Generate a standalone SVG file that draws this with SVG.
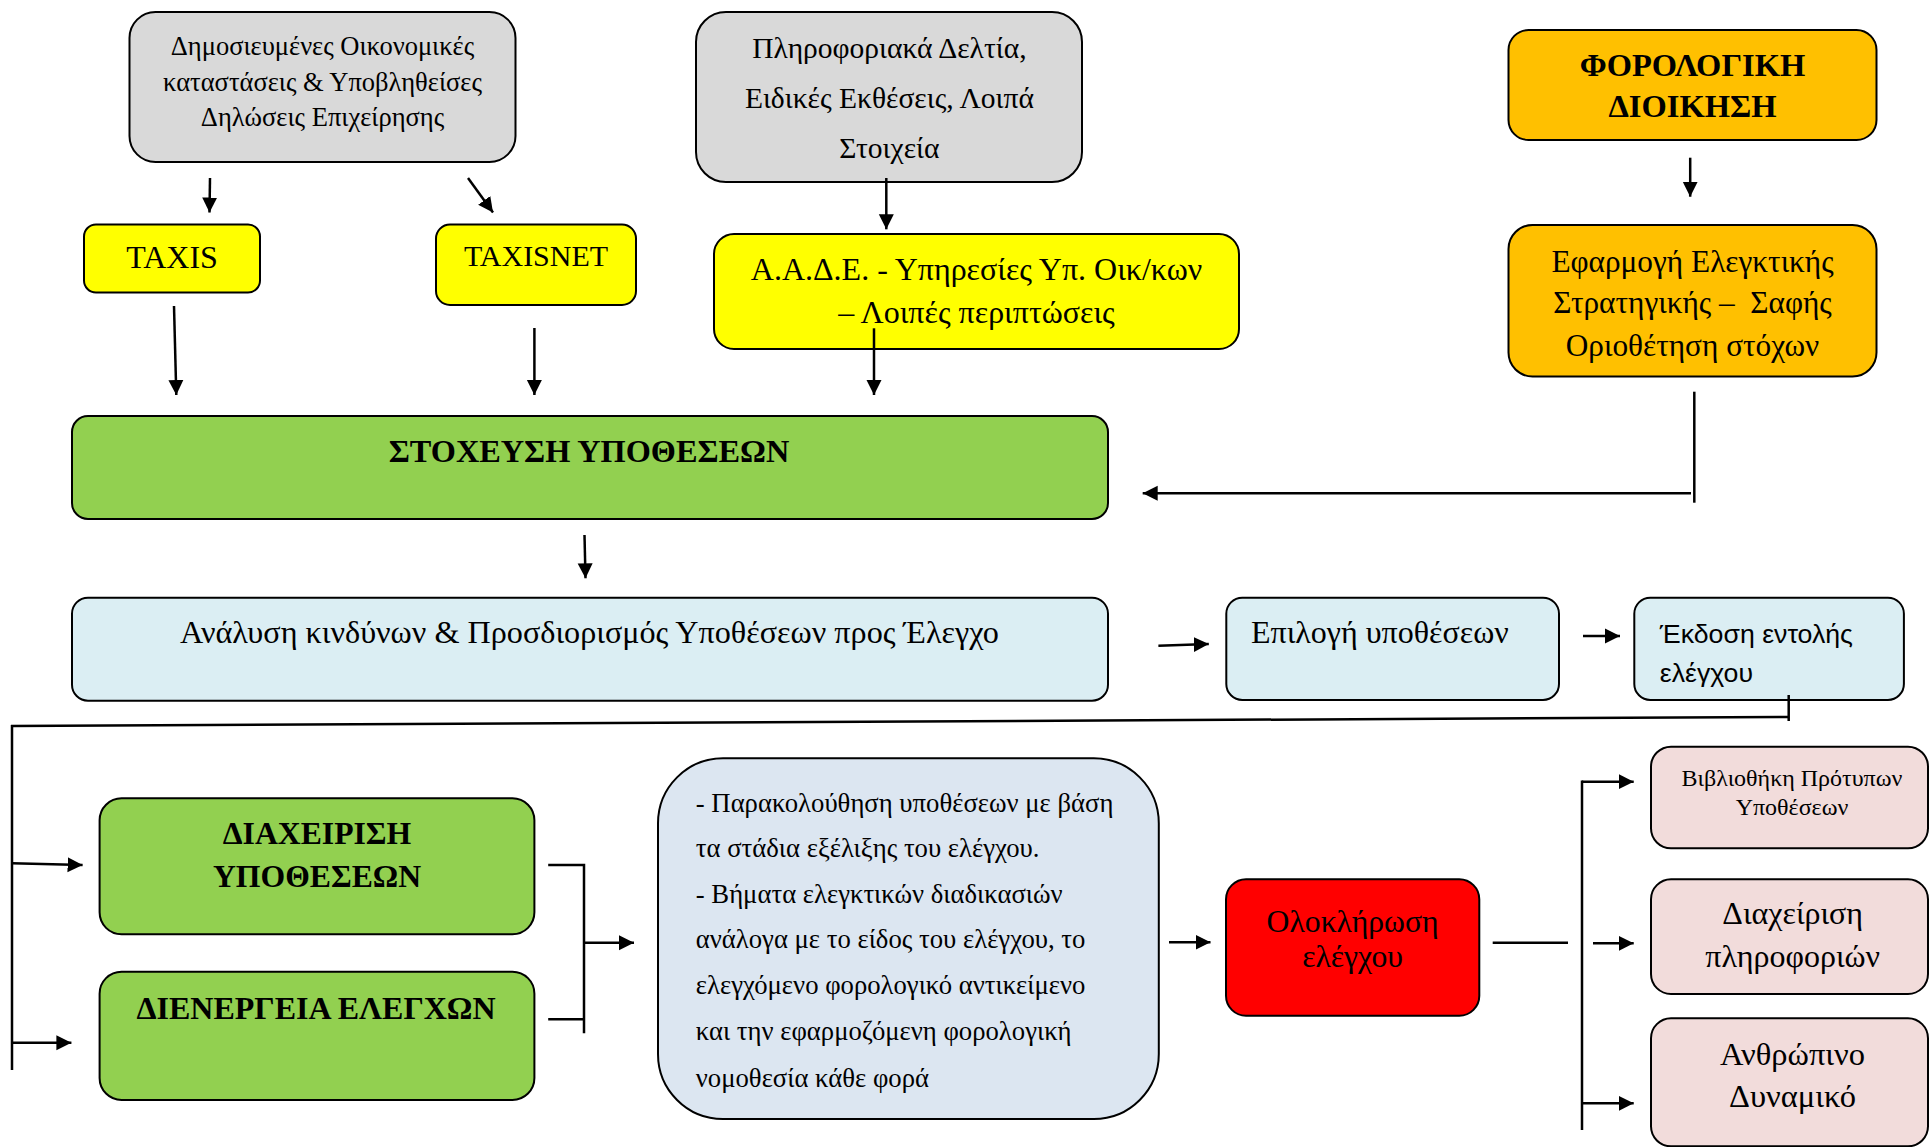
<svg xmlns="http://www.w3.org/2000/svg" width="1932" height="1147" viewBox="0 0 1932 1147">
  <defs>
    <marker id="arrow" markerUnits="userSpaceOnUse" markerWidth="16" markerHeight="16" refX="15" refY="8" orient="auto">
      <path d="M0,0.5 L15,8 L0,15.5 z" fill="#000"/>
    </marker>
    <style>
      .box { stroke: #000; stroke-width: 2; }
      .gray { fill: #d9d9d9; }
      .yellow { fill: #ffff00; }
      .orange { fill: #ffc000; }
      .green { fill: #92d050; }
      .aqua { fill: #dbeef3; }
      .steel { fill: #dce6f1; }
      .red { fill: #ff0000; }
      .pink { fill: #f2dcdb; }
      text { font-family: "Liberation Serif", "Times New Roman", serif; fill: #000; }
      .c { text-anchor: middle; }
      .b { font-weight: bold; }
      .sans { font-family: "Liberation Sans", Arial, sans-serif; }
      .conn line, .conn path { stroke: #000; stroke-width: 2.5; fill: none; }
      .conn .arr { marker-end: url(#arrow); }
    </style>
  </defs>
  <rect width="1932" height="1147" fill="#fff"/>

  <!-- source documents -->
  <g id="n-published">
    <rect class="box gray" x="129.5" y="12" width="386" height="150" rx="26"/>
    <text class="c" font-size="26.5"><tspan x="322.5" y="55">Δημοσιευμένες Οικονομικές</tspan><tspan x="322.5" y="90.5">καταστάσεις &amp; Υποβληθείσες</tspan><tspan x="322.5" y="126">Δηλώσεις Επιχείρησης</tspan></text>
  </g>
  <g id="n-bulletins">
    <rect class="box gray" x="696" y="12" width="386" height="170" rx="30"/>
    <text class="c" font-size="29.5"><tspan x="889.4" y="58">Πληροφοριακά Δελτία,</tspan><tspan x="889.4" y="108">Ειδικές Εκθέσεις, Λοιπά</tspan><tspan x="889.4" y="158">Στοιχεία</tspan></text>
  </g>

  <!-- information systems -->
  <g id="n-taxis">
    <rect class="box yellow" x="84" y="224.5" width="176" height="68" rx="12"/>
    <text class="c" x="172" y="268" font-size="32">TAXIS</text>
  </g>
  <g id="n-taxisnet">
    <rect class="box yellow" x="436" y="224.5" width="200" height="80.5" rx="14"/>
    <text class="c" x="536" y="265.5" font-size="30">TAXISNET</text>
  </g>
  <g id="n-aade">
    <rect class="box yellow" x="714" y="234" width="525" height="115" rx="20"/>
    <text class="c" font-size="32"><tspan x="976.5" y="280">Α.Α.Δ.Ε. - Υπηρεσίες Υπ. Οικ/κων</tspan><tspan x="976.5" y="323.3">– Λοιπές περιπτώσεις</tspan></text>
  </g>

  <!-- tax administration -->
  <g id="n-admin">
    <rect class="box orange" x="1508.5" y="30" width="368" height="110" rx="20"/>
    <text class="c b" font-size="32.5"><tspan x="1692.5" y="76">ΦΟΡΟΛΟΓΙΚΗ</tspan><tspan x="1692.5" y="117.3">ΔΙΟΙΚΗΣΗ</tspan></text>
  </g>
  <g id="n-strategy">
    <rect class="box orange" x="1508.5" y="225" width="368" height="151.5" rx="24"/>
    <text class="c" font-size="31.3"><tspan x="1692.5" y="271.7">Εφαρμογή Ελεγκτικής</tspan><tspan x="1692.5" y="313.3">Στρατηγικής –&#160; Σαφής</tspan><tspan x="1692.5" y="356">Οριοθέτηση στόχων</tspan></text>
  </g>

  <!-- targeting and selection -->
  <g id="n-targeting">
    <rect class="box green" x="72" y="416" width="1036" height="103" rx="16"/>
    <text class="c b" x="589" y="462.3" font-size="32.3">ΣΤΟΧΕΥΣΗ ΥΠΟΘΕΣΕΩΝ</text>
  </g>
  <g id="n-risk">
    <rect class="box aqua" x="72" y="597.7" width="1036" height="103" rx="16"/>
    <text class="c" x="589.5" y="643.3" font-size="32.2">Ανάλυση κινδύνων &amp; Προσδιορισμός Υποθέσεων προς Έλεγχο</text>
  </g>
  <g id="n-selection">
    <rect class="box aqua" x="1226.3" y="597.7" width="332.7" height="102.3" rx="16"/>
    <text x="1251" y="643.3" font-size="32">Επιλογή υποθέσεων</text>
  </g>
  <g id="n-order">
    <rect class="box aqua" x="1634.3" y="597.7" width="269.6" height="102.3" rx="16"/>
    <text class="sans" font-size="26.7"><tspan x="1659.8" y="643.3">Έκδοση εντολής</tspan><tspan x="1659.8" y="681.7">ελέγχου</tspan></text>
  </g>

  <!-- execution -->
  <g id="n-management">
    <rect class="box green" x="99.6" y="798.3" width="434.8" height="136" rx="22"/>
    <text class="c b" font-size="31.7"><tspan x="317" y="844">ΔΙΑΧΕΙΡΙΣΗ</tspan><tspan x="317" y="887.3">ΥΠΟΘΕΣΕΩΝ</tspan></text>
  </g>
  <g id="n-conduct">
    <rect class="box green" x="99.6" y="971.7" width="434.8" height="128.3" rx="22"/>
    <text class="c b" x="316" y="1019" font-size="32">ΔΙΕΝΕΡΓΕΙΑ ΕΛΕΓΧΩΝ</text>
  </g>
  <g id="n-monitoring">
    <rect class="box steel" x="658" y="758.3" width="500.8" height="360.7" rx="65"/>
    <text font-size="26.7">
      <tspan x="695.8" y="811.7">- Παρακολούθηση υποθέσεων με βάση</tspan>
      <tspan x="695.8" y="857">τα στάδια εξέλιξης του ελέγχου.</tspan>
      <tspan x="695.8" y="902.7">- Βήματα ελεγκτικών διαδικασιών</tspan>
      <tspan x="695.8" y="948.3">ανάλογα με το είδος του ελέγχου, το</tspan>
      <tspan x="695.8" y="994">ελεγχόμενο φορολογικό αντικείμενο</tspan>
      <tspan x="695.8" y="1040">και την εφαρμοζόμενη φορολογική</tspan>
      <tspan x="695.8" y="1086.7">νομοθεσία κάθε φορά</tspan>
    </text>
  </g>
  <g id="n-completion">
    <rect class="box red" x="1226" y="879.3" width="253.3" height="136.4" rx="20"/>
    <text class="c" font-size="31.7"><tspan x="1352.6" y="932">Ολοκλήρωση</tspan><tspan x="1352.6" y="967">ελέγχου</tspan></text>
  </g>

  <!-- outputs -->
  <g id="n-library">
    <rect class="box pink" x="1651" y="746.7" width="277" height="101.6" rx="20"/>
    <text class="c" font-size="24"><tspan x="1792" y="786">Βιβλιοθήκη Πρότυπων</tspan><tspan x="1792" y="814.5">Υποθέσεων</tspan></text>
  </g>
  <g id="n-information">
    <rect class="box pink" x="1651" y="879.3" width="277" height="114.7" rx="20"/>
    <text class="c" font-size="32"><tspan x="1792.7" y="924">Διαχείριση</tspan><tspan x="1792.7" y="966.7">πληροφοριών</tspan></text>
  </g>
  <g id="n-staff">
    <rect class="box pink" x="1651" y="1018.3" width="277" height="128" rx="20"/>
    <text class="c" font-size="32.5"><tspan x="1792.5" y="1065">Ανθρώπινο</tspan><tspan x="1792.5" y="1107.3">Δυναμικό</tspan></text>
  </g>

  <!-- connectors -->
  <g id="connectors" class="conn">
    <line class="arr" x1="210" y1="178" x2="209.5" y2="212.5"/>
    <line class="arr" x1="468" y1="178" x2="493" y2="212.5"/>
    <line class="arr" x1="886.3" y1="178" x2="886.3" y2="229.3"/>
    <line class="arr" x1="174" y1="306" x2="176.3" y2="395"/>
    <line class="arr" x1="534.4" y1="328" x2="534.4" y2="395"/>
    <line class="arr" x1="874" y1="328.3" x2="874" y2="395"/>
    <line class="arr" x1="1690.2" y1="157.7" x2="1690.2" y2="196.7"/>
    <line x1="1694.3" y1="391.7" x2="1694.3" y2="502.7"/>
    <line class="arr" x1="1691" y1="493.3" x2="1142.7" y2="493.3"/>
    <line class="arr" x1="584.5" y1="535" x2="585.5" y2="578.3"/>
    <line class="arr" x1="1158.4" y1="645.7" x2="1208.8" y2="644"/>
    <line class="arr" x1="1583" y1="636" x2="1620" y2="636"/>
    <line x1="1788.7" y1="695" x2="1788.7" y2="721"/>
    <line x1="1788.7" y1="717" x2="11" y2="726"/>
    <line x1="12" y1="725" x2="12" y2="1070"/>
    <line class="arr" x1="12" y1="863.3" x2="82.6" y2="865"/>
    <line class="arr" x1="12" y1="1042.7" x2="71.4" y2="1042.7"/>
    <path d="M548.2,865 H584 V1033.3 M548.2,1019.3 H584"/>
    <line class="arr" x1="584" y1="942.7" x2="634" y2="942.7"/>
    <line class="arr" x1="1169" y1="942.3" x2="1210.5" y2="942.3"/>
    <line x1="1492.7" y1="942.7" x2="1568" y2="942.7"/>
    <line x1="1582" y1="780.5" x2="1582" y2="1130"/>
    <line class="arr" x1="1582" y1="781.7" x2="1633.7" y2="781.7"/>
    <line class="arr" x1="1593" y1="943.3" x2="1633.7" y2="943.3"/>
    <line class="arr" x1="1582" y1="1103.3" x2="1633.7" y2="1103.3"/>
  </g>
</svg>
